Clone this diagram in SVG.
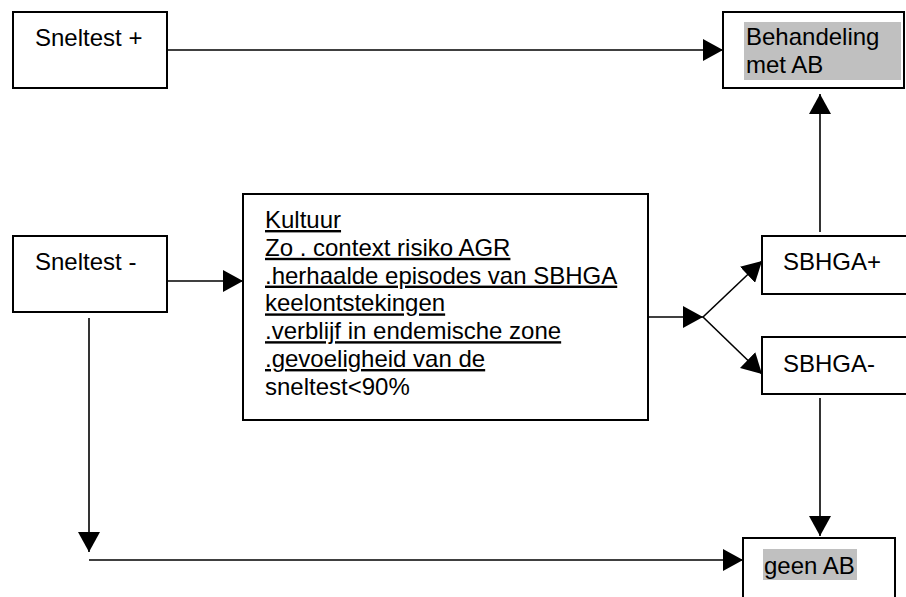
<svg xmlns="http://www.w3.org/2000/svg" width="906" height="597" viewBox="0 0 906 597">
<style>
.box{fill:#fff;stroke:#000;stroke-width:2}
.hl{fill:#c0c0c0;stroke:none}
.t{font-family:"Liberation Sans",Arial,sans-serif;font-size:24px;fill:#000}
.u{text-decoration:underline}
.ln{fill:none;stroke:#000;stroke-width:1.6}
</style>
<defs>
<marker id="ah" viewBox="0 0 20 22" refX="20" refY="11" markerWidth="20" markerHeight="22" markerUnits="userSpaceOnUse" orient="auto">
<path d="M0,0 L20,11 L0,22 Z" fill="#000"/>
</marker>
</defs>
<rect x="0" y="0" width="906" height="597" fill="#fff"/>
<g id="connectors">
<line class="ln" x1="167" y1="50" x2="723" y2="50" marker-end="url(#ah)"/>
<line class="ln" x1="167" y1="281" x2="243" y2="281" marker-end="url(#ah)"/>
<line class="ln" x1="89" y1="318" x2="89" y2="552" marker-end="url(#ah)"/>
<line class="ln" x1="89" y1="560" x2="743" y2="560" marker-end="url(#ah)"/>
<line class="ln" x1="648" y1="317" x2="703" y2="317" marker-end="url(#ah)"/>
<line class="ln" x1="703" y1="317" x2="762" y2="261" marker-end="url(#ah)"/>
<line class="ln" x1="703" y1="317" x2="762" y2="374" marker-end="url(#ah)"/>
<line class="ln" x1="820" y1="232" x2="820" y2="94" marker-end="url(#ah)"/>
<line class="ln" x1="820" y1="398" x2="820" y2="536" marker-end="url(#ah)"/>
</g>
<g id="sneltest-plus">
<rect class="box" x="13" y="12" width="154" height="76"/>
<text class="t" x="35" y="46">Sneltest +</text>
</g>
<g id="behandeling">
<rect class="box" x="723" y="12" width="181" height="76"/>
<rect class="hl" x="744" y="22" width="157" height="58"/>
<text class="t" x="746" y="45">Behandeling</text>
<text class="t" x="746" y="73">met AB</text>
</g>
<g id="sneltest-min">
<rect class="box" x="13" y="236" width="154" height="76"/>
<text class="t" x="35" y="270">Sneltest -</text>
</g>
<g id="kultuur">
<rect class="box" x="243" y="194" width="405" height="226"/>
<text class="t" x="265" y="228"><tspan class="u">Kultuur</tspan><tspan class="u" x="265" dy="27.8">Zo . context risiko AGR</tspan><tspan class="u" x="265" dy="27.8">.herhaalde episodes van SBHGA</tspan><tspan class="u" x="265" dy="27.8">keelontstekingen</tspan><tspan class="u" x="265" dy="27.8">.verblijf in endemische zone</tspan><tspan class="u" x="265" dy="27.8">.gevoeligheid van de</tspan><tspan x="265" dy="27.8">sneltest&lt;90%</tspan></text>
</g>
<g id="sbhga-plus">
<rect class="box" x="762" y="236" width="150" height="58"/>
<text class="t" x="783" y="270">SBHGA+</text>
</g>
<g id="sbhga-min">
<rect class="box" x="762" y="337" width="150" height="57"/>
<text class="t" x="783" y="372">SBHGA-</text>
</g>
<g id="geen-ab">
<rect class="box" x="743" y="538" width="152" height="70"/>
<rect class="hl" x="763" y="549" width="94" height="31"/>
<text class="t" x="764" y="574">geen AB</text>
</g>
</svg>
